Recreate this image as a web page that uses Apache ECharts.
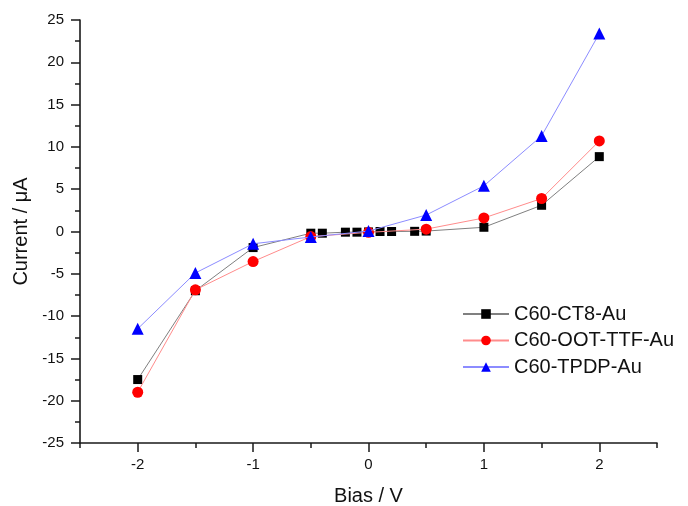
<!DOCTYPE html>
<html>
<head>
<meta charset="utf-8">
<script src="https://cdn.jsdelivr.net/npm/echarts@6/dist/echarts.min.js"></script>
<style>
  html, body { margin: 0; padding: 0; background: #fff; }
  #chart { width: 688px; height: 506px; }
</style>
</head>
<body>
<div id="chart"></div>
<script>
// bias values (V) and currents (uA)
var biasCT8 = [-2, -1.5, -1, -0.5, -0.4, -0.2, -0.1, 0, 0.1, 0.2, 0.4, 0.5, 1, 1.5, 2];
var currentCT8 = [-17.5, -7.0, -1.9, -0.2, -0.2, -0.08, -0.08, -0.05, 0, 0, 0.02, 0.05, 0.5, 3.1, 8.85];

var biasOOT = [-2, -1.5, -1, -0.5, 0, 0.5, 1, 1.5, 2];
var currentOOT = [-19.0, -6.9, -3.55, -0.6, -0.1, 0.28, 1.6, 3.9, 10.7];

var biasTPDP = [-2, -1.5, -1, -0.5, 0, 0.5, 1, 1.5, 2];
var currentTPDP = [-11.5, -4.9, -1.45, -0.65, 0.05, 1.95, 5.4, 11.3, 23.4];

var seriesNames = ['C60-CT8-Au', 'C60-OOT-TTF-Au', 'C60-TPDP-Au'];
var xMajorTicks = [-2, -1, 0, 1, 2];
var xMinorTicks = [-2.5, -1.5, -0.5, 0.5, 1.5, 2.5];

function pairs(xs, ys) {
    return xs.map(function (x, i) { return [x, ys[i]]; });
}

var font = 'Liberation Sans, Arial, sans-serif';
var axisColor = '#1a1a1a';

var myChart = echarts.init(document.getElementById('chart'));

var option = {
    animation: false,
    backgroundColor: '#fff',
    textStyle: { fontFamily: font },
    grid: { left: 80, top: 20, width: 577, height: 423, outerBoundsMode: 'none', containLabel: false },
    legend: {
        orient: 'vertical',
        left: 462,
        top: 304,
        padding: 0,
        itemWidth: 46,
        itemHeight: 12,
        itemGap: 6.5,
        data: seriesNames,
        textStyle: { fontFamily: font, fontSize: 20, color: '#111' }
    },
    xAxis: [{
        type: 'value',
        min: -2.5,
        max: 2.5,
        interval: 0.5,
        name: 'Bias / V',
        nameLocation: 'middle',
        nameGap: 43,
        nameTextStyle: { fontFamily: font, fontSize: 20, color: '#111' },
        splitLine: { show: false },
        axisLine: { onZero: false, lineStyle: { color: axisColor, width: 1.6 } },
        axisTick: { customValues: xMajorTicks, length: 9, lineStyle: { color: axisColor, width: 1.5 } },
        axisLabel: { customValues: xMajorTicks, margin: 14, fontSize: 15, color: '#111', fontFamily: font }
    }, {
        type: 'value',
        position: 'bottom',
        min: -2.5,
        max: 2.5,
        interval: 0.5,
        splitLine: { show: false },
        axisLine: { show: false, onZero: false },
        axisTick: { customValues: xMinorTicks, length: 5, lineStyle: { color: axisColor, width: 1.5 } },
        axisLabel: { show: false }
    }],
    yAxis: {
        type: 'value',
        min: -25,
        max: 25,
        interval: 5,
        name: 'Current / \u03bcA',
        nameLocation: 'middle',
        nameGap: 48,
        nameTextStyle: { fontFamily: font, fontSize: 20, color: '#111' },
        splitLine: { show: false },
        axisLine: { onZero: false, lineStyle: { color: axisColor, width: 1.6 } },
        axisTick: { length: 9, lineStyle: { color: axisColor, width: 1.5 } },
        minorTick: { show: true, splitNumber: 2, length: 5, lineStyle: { color: axisColor, width: 1.5 } },
        axisLabel: { margin: 16, fontSize: 15, color: '#111', fontFamily: font }
    },
    series: [{
        name: seriesNames[0],
        type: 'line',
        data: pairs(biasCT8, currentCT8),
        symbol: 'rect',
        symbolSize: 9,
        itemStyle: { color: '#000' },
        lineStyle: { color: '#808080', width: 1 },
        z: 2
    }, {
        name: seriesNames[1],
        type: 'line',
        data: pairs(biasOOT, currentOOT),
        symbol: 'circle',
        symbolSize: 11,
        itemStyle: { color: '#ff0000' },
        lineStyle: { color: '#ff8c8c', width: 1 },
        z: 3
    }, {
        name: seriesNames[2],
        type: 'line',
        data: pairs(biasTPDP, currentTPDP),
        symbol: 'triangle',
        symbolSize: 12,
        itemStyle: { color: '#0000ff' },
        lineStyle: { color: '#8c8cff', width: 1 },
        z: 4
    }]
};
myChart.setOption(option);
</script>
</body>
</html>
